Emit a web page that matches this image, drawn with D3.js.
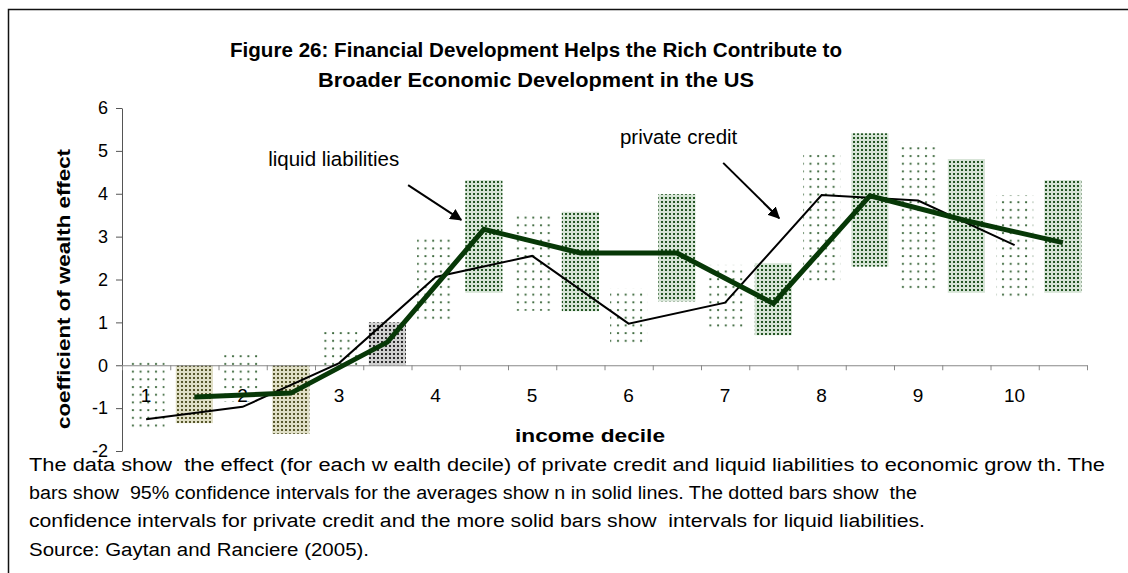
<!DOCTYPE html>
<html>
<head>
<meta charset="utf-8">
<script src="https://cdn.jsdelivr.net/npm/d3@7"></script>
<style>
  body { margin: 0; background: #fff; }
  text { font-family: Arial, "Liberation Sans", sans-serif; fill: #000; }
</style>
</head>
<body>
<div id="chart"></div>
<script>
// Set dimensions and margins
const width = 1128;
const height = 573;
const margin = {left: 122, right: 41, top: 108, bottom: 122};

// Chart data
const deciles = ["1", "2", "3", "4", "5", "6", "7", "8", "9", "10"];
const privateCredit = [-1.26, -0.97, 0.05, 2.06, 2.55, 0.97, 1.46, 3.97, 3.84, 2.80];
const privateLow    = [-1.53, -0.85, 0.00, 0.99, 1.27, 0.52, 0.78, 1.96, 1.69, 1.50];
const privateHigh   = [0.16, 0.27, 0.86, 3.00, 3.58, 1.79, 2.34, 5.00, 5.20, 3.97];
const liquidLiab    = [-0.74, -0.65, 0.54, 3.17, 2.62, 2.62, 1.44, 3.95, 3.37, 2.86];
const liquidLow     = [-1.35, -1.60, 0.00, 1.69, 1.26, 1.49, 0.70, 2.30, 1.69, 1.69];
const liquidHigh    = [0.00, 0.00, 1.00, 4.32, 3.58, 3.99, 2.38, 5.41, 4.81, 4.32];
const yTicks = [6, 5, 4, 3, 2, 1, 0, -1, -2];

const titleLines = [
  "Figure 26: Financial Development Helps the Rich Contribute to",
  "Broader Economic Development in the US"
];
const captionLines = [
  "The data show  the effect (for each w ealth decile) of private credit and liquid liabilities to economic grow th. The",
  "bars show  95% confidence intervals for the averages show n in solid lines. The dotted bars show  the",
  "confidence intervals for private credit and the more solid bars show  intervals for liquid liabilities.",
  "Source: Gaytan and Ranciere (2005)."
];

const svg = d3.select("#chart")
  .append("svg")
  .attr("width", width)
  .attr("height", height);

// patterns for the two kinds of bars
const defs = svg.append("defs");
const dotted = defs.append("pattern")
  .attr("id", "pcDots")
  .attr("patternUnits", "userSpaceOnUse")
  .attr("width", 7.7).attr("height", 7.7);
dotted.append("circle").attr("cx", 2).attr("cy", 2).attr("r", 1.15).attr("fill", "#3f6a3f");

const denseTints = {
  green: {bg: "#d6e4d6", dot: "#245624"},
  olive: {bg: "#e0dfc6", dot: "#58582c"},
  grey:  {bg: "#cfcfcf", dot: "#2e2e2e"}
};
Object.entries(denseTints).forEach(([k, c]) => {
  const p = defs.append("pattern")
    .attr("id", "ll-" + k)
    .attr("patternUnits", "userSpaceOnUse")
    .attr("width", 4).attr("height", 4);
  p.append("rect").attr("width", 4).attr("height", 4).attr("fill", c.bg);
  p.append("rect").attr("x", 1).attr("y", 1).attr("width", 2).attr("height", 2).attr("fill", c.dot);
});
const denseFill = i => i < 2 ? "url(#ll-olive)" : (i === 2 ? "url(#ll-grey)" : "url(#ll-green)");

// frame
svg.append("path")
  .attr("d", `M8.5,${height} V9.5 H${width}`)
  .attr("fill", "none")
  .attr("stroke", "#111")
  .attr("stroke-width", 1.5);

// scales
const keys = deciles.flatMap(d => [d + "-pc", d + "-ll"]);
const xScale = d3.scaleBand()
  .domain(keys)
  .range([margin.left, width - margin.right])
  .paddingInner(0.23)
  .paddingOuter(0.115);

const yScale = d3.scaleLinear()
  .domain([-2, 6])
  .range([height - margin.bottom, margin.top]);

const slotScale = d3.scaleLinear()
  .domain([0, keys.length])
  .range([margin.left, width - margin.right]);

const cx = key => xScale(key) + xScale.bandwidth() / 2;

// private credit bars (sparse dots)
svg.selectAll(".pcbar")
  .data(deciles)
  .enter()
  .append("rect")
    .attr("class", "pcbar")
    .attr("x", d => xScale(d + "-pc"))
    .attr("y", (d, i) => yScale(privateHigh[i]))
    .attr("width", xScale.bandwidth())
    .attr("height", (d, i) => yScale(privateLow[i]) - yScale(privateHigh[i]))
    .attr("fill", "url(#pcDots)");

// liquid liabilities bars (dense dots)
svg.selectAll(".llbar")
  .data(deciles)
  .enter()
  .append("rect")
    .attr("class", "llbar")
    .attr("x", d => xScale(d + "-ll"))
    .attr("y", (d, i) => yScale(liquidHigh[i]))
    .attr("width", xScale.bandwidth())
    .attr("height", (d, i) => yScale(liquidLow[i]) - yScale(liquidHigh[i]))
    .attr("fill", (d, i) => denseFill(i));

// y axis
const yAxis = svg.append("g")
  .attr("transform", `translate(${margin.left},0)`)
  .call(d3.axisLeft(yScale).tickValues(yTicks).tickFormat(d => String(d))
    .tickSize(6).tickSizeOuter(0).tickPadding(8));
yAxis.select(".domain").attr("stroke", "#555");
yAxis.selectAll(".tick line").attr("stroke", "#555");
yAxis.selectAll("text").attr("font-size", "18px").attr("fill", "#000");

// x axis along zero
const xAxis = svg.append("g")
  .attr("transform", `translate(0,${yScale(0)})`)
  .call(d3.axisBottom(slotScale).tickValues(d3.range(keys.length + 1)).tickSize(5).tickSizeOuter(0).tickFormat(""));
xAxis.select(".domain").attr("stroke", "#888");
xAxis.selectAll(".tick line").attr("stroke", "#888");

// decile labels
svg.selectAll(".declabel")
  .data(deciles)
  .enter()
  .append("text")
    .attr("class", "declabel")
    .attr("x", d => cx(d + "-pc"))
    .attr("y", yScale(0) + 37)
    .attr("text-anchor", "middle")
    .attr("font-size", "19px")
    .text(d => d);

// lines
const line = d3.line();
svg.append("path")
  .datum(deciles.map((d, i) => [cx(d + "-pc"), yScale(privateCredit[i])]))
  .attr("d", line)
  .attr("fill", "none")
  .attr("stroke", "#000")
  .attr("stroke-width", 2);

svg.append("path")
  .datum(deciles.map((d, i) => [cx(d + "-ll"), yScale(liquidLiab[i])]))
  .attr("d", line)
  .attr("fill", "none")
  .attr("stroke", "#073807")
  .attr("stroke-width", 5)
  .attr("stroke-linejoin", "miter");

// annotations with arrows
defs.append("marker")
  .attr("id", "arrow")
  .attr("viewBox", "0 0 10 10")
  .attr("refX", 9).attr("refY", 5)
  .attr("markerWidth", 6).attr("markerHeight", 6)
  .attr("orient", "auto")
  .append("path")
    .attr("d", "M0,0 L10,5 L0,10 z")
    .attr("fill", "#000");

const notes = [
  {label: "liquid liabilities", tx: 3.03, ty: 4.65, from: [5.93, 4.20], to: [7.03, 3.39]},
  {label: "private credit", tx: 10.32, ty: 5.15, from: [12.46, 4.72], to: [13.62, 3.43]}
];
notes.forEach(n => {
  svg.append("text")
    .attr("x", slotScale(n.tx))
    .attr("y", yScale(n.ty))
    .attr("font-size", "20.5px")
    .text(n.label);
  svg.append("line")
    .attr("x1", slotScale(n.from[0])).attr("y1", yScale(n.from[1]))
    .attr("x2", slotScale(n.to[0])).attr("y2", yScale(n.to[1]))
    .attr("stroke", "#000")
    .attr("stroke-width", 2)
    .attr("marker-end", "url(#arrow)");
});

// axis titles
svg.append("text")
  .attr("transform", `translate(70,289) rotate(-90)`)
  .attr("text-anchor", "middle")
  .attr("font-size", "18.5px")
  .attr("font-weight", "bold")
  .attr("textLength", 280)
  .attr("lengthAdjust", "spacingAndGlyphs")
  .text("coefficient of wealth effect");

svg.append("text")
  .attr("x", 590)
  .attr("y", 442)
  .attr("text-anchor", "middle")
  .attr("font-size", "18.5px")
  .attr("font-weight", "bold")
  .attr("textLength", 150)
  .attr("lengthAdjust", "spacingAndGlyphs")
  .text("income decile");

// title
const titleWidths = [612, 436];
svg.selectAll(".title")
  .data(titleLines)
  .enter()
  .append("text")
    .attr("class", "title")
    .attr("x", 536)
    .attr("y", (d, i) => 57 + i * 30)
    .attr("text-anchor", "middle")
    .attr("font-size", "20.5px")
    .attr("font-weight", "bold")
    .attr("textLength", (d, i) => titleWidths[i])
    .attr("lengthAdjust", "spacingAndGlyphs")
    .text(d => d);

// caption below the chart
const captionWidths = [1076, 888, 896, 340];
svg.selectAll(".caption")
  .data(captionLines)
  .enter()
  .append("text")
    .attr("class", "caption")
    .attr("x", 29)
    .attr("y", (d, i) => 471 + i * 28.2)
    .attr("font-size", "18px")
    .attr("textLength", (d, i) => captionWidths[i])
    .attr("lengthAdjust", "spacingAndGlyphs")
    .style("white-space", "pre")
    .text(d => d);
</script>
</body>
</html>
